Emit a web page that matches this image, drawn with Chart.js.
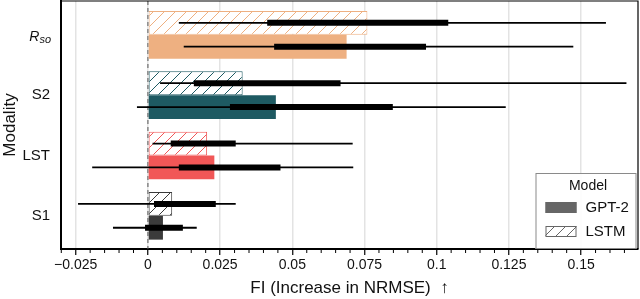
<!DOCTYPE html>
<html>
<head>
<meta charset="utf-8">
<script src="https://cdn.jsdelivr.net/npm/chart.js@4.4.0/dist/chart.umd.min.js"></script>
<style>
  html, body { margin: 0; padding: 0; background: #fff; }
  #wrap { width: 640px; height: 299px; }
</style>
</head>
<body>
<div id="wrap"><canvas id="fiChart" width="640" height="299"></canvas></div>
<script>
// modalities, top to bottom
const modalities = ['R_so', 'S2', 'LST', 'S1'];
const modalityColors = ['#eeb081', '#1e5a62', '#f15757', '#3b3b3b'];

// LSTM: bar = FI, thin line = low..high, thick line = q1..q3
const lstmFI = [0.076, 0.0328, 0.0205, 0.0084];
const lstmLow = [0.0107, 0.0042, 0.0016, -0.0242];
const lstmHigh = [0.1586, 0.1657, 0.0709, 0.0304];
const lstmQ1 = [0.0413, 0.0159, 0.0079, 0.0021];
const lstmQ3 = [0.104, 0.0667, 0.0304, 0.0235];

// GPT-2
const gptFI = [0.0688, 0.0443, 0.023, 0.0052];
const gptLow = [0.0124, -0.0038, -0.0193, -0.0121];
const gptHigh = [0.1473, 0.1239, 0.0711, 0.0169];
const gptQ1 = [0.0437, 0.0284, 0.0107, -0.001];
const gptQ3 = [0.0963, 0.0848, 0.0459, 0.0121];

const xTicks = [-0.025, 0, 0.025, 0.05, 0.075, 0.1, 0.125, 0.15];

const FONT = "'Liberation Sans', Arial, Helvetica, sans-serif";
Chart.defaults.font.family = FONT;
Chart.defaults.color = '#111';

// diagonal hatch as canvas pattern
function hatch(color) {
  const s = 11;
  const c = document.createElement('canvas');
  c.width = s; c.height = s;
  const g = c.getContext('2d');
  g.fillStyle = '#fff';
  g.fillRect(0, 0, s, s);
  g.strokeStyle = color;
  g.lineWidth = 1;
  g.beginPath();
  g.moveTo(0, s); g.lineTo(s, 0);
  g.moveTo(-1, 1); g.lineTo(1, -1);
  g.moveTo(s - 1, s + 1); g.lineTo(s + 1, s - 1);
  g.stroke();
  return g.createPattern(c, 'repeat');
}

function fmt(v) {
  const r = parseFloat(v.toFixed(4));
  return (r < 0 ? '\u2212' : '') + Math.abs(r).toString();
}

const toPoints = arr => arr.map((v, i) => ({ x: v, y: i }));

// whiskers + IQR lines on top of each bar
const spreadPlugin = {
  id: 'spread',
  afterDatasetsDraw(chart) {
    const ctx = chart.ctx;
    const x = chart.scales.x;
    chart.data.datasets.forEach((ds, di) => {
      const meta = chart.getDatasetMeta(di);
      meta.data.forEach((bar, i) => {
        const y = bar.y;
        ctx.save();
        ctx.strokeStyle = '#000';
        ctx.lineCap = 'butt';
        ctx.lineWidth = 1.8;
        ctx.beginPath();
        ctx.moveTo(x.getPixelForValue(ds.low[i]), y);
        ctx.lineTo(x.getPixelForValue(ds.high[i]), y);
        ctx.stroke();
        ctx.lineWidth = 6;
        ctx.beginPath();
        ctx.moveTo(x.getPixelForValue(ds.q1[i]), y);
        ctx.lineTo(x.getPixelForValue(ds.q3[i]), y);
        ctx.stroke();
        ctx.restore();
      });
    });
  }
};

// dashed zero line behind the bars
const zeroLinePlugin = {
  id: 'zeroLine',
  beforeDatasetsDraw(chart) {
    const { ctx, chartArea } = chart;
    const px = chart.scales.x.getPixelForValue(0);
    ctx.save();
    ctx.strokeStyle = '#555';
    ctx.lineWidth = 1;
    ctx.setLineDash([4, 3]);
    ctx.beginPath();
    ctx.moveTo(px, chartArea.top);
    ctx.lineTo(px, chartArea.bottom);
    ctx.stroke();
    ctx.restore();
  }
};

// frame, minor ticks, R_so label, legend
const decorPlugin = {
  id: 'decor',
  afterDraw(chart) {
    const { ctx, chartArea } = chart;
    const x = chart.scales.x;
    const y = chart.scales.y;
    ctx.save();

    // top and right spines
    ctx.strokeStyle = '#000';
    ctx.lineWidth = 1.2;
    ctx.beginPath();
    ctx.moveTo(chartArea.left, chartArea.top);
    ctx.lineTo(chartArea.right, chartArea.top);
    ctx.lineTo(chartArea.right, chartArea.bottom);
    ctx.stroke();

    // minor ticks every 0.005
    ctx.lineWidth = 1;
    for (let k = -6; k <= 34; k++) {
      if (k % 5 === 0) continue;
      const px = x.getPixelForValue(k * 0.005);
      if (px < chartArea.left || px > chartArea.right) continue;
      ctx.beginPath();
      ctx.moveTo(px, chartArea.bottom + 1);
      ctx.lineTo(px, chartArea.bottom + 4);
      ctx.stroke();
    }

    // math-style tick labels (R_so)
    modalities.forEach((m, i) => {
      if (!m.includes('_')) return;
      const [base, sub] = m.split('_');
      const py = y.getPixelForValue(i);
      const right = chartArea.left - 10;
      ctx.fillStyle = '#111';
      ctx.textBaseline = 'alphabetic';
      ctx.font = 'italic 11px ' + FONT;
      const wSub = ctx.measureText(sub).width;
      ctx.font = 'italic 14px ' + FONT;
      const wBase = ctx.measureText(base).width;
      ctx.fillText(base, right - wSub - wBase, py + 6);
      ctx.font = 'italic 11px ' + FONT;
      ctx.fillText(sub, right - wSub, py + 8.5);
    });

    // legend box
    const w = 101, h = 76;
    const lx = chartArea.right - w - 1.5;
    const ly = chartArea.bottom - h;
    ctx.fillStyle = 'rgba(255,255,255,0.9)';
    ctx.fillRect(lx, ly, w, h);
    ctx.strokeStyle = '#8a8a8a';
    ctx.lineWidth = 1;
    ctx.strokeRect(lx + 0.5, ly + 0.5, w - 1, h - 1);
    ctx.fillStyle = '#111';
    ctx.textAlign = 'center';
    ctx.textBaseline = 'middle';
    ctx.font = '14px ' + FONT;
    ctx.fillText('Model', lx + w / 2 + 2, ly + 13);
    ctx.textAlign = 'left';
    ctx.font = '15px ' + FONT;
    const order = [1, 0];
    order.forEach((di, row) => {
      const ds = chart.data.datasets[di];
      const sy = ly + 29 + row * 24;
      ctx.fillStyle = ds.legendFill;
      ctx.fillRect(lx + 10, sy, 31, 11);
      ctx.strokeStyle = '#666';
      ctx.lineWidth = 1;
      ctx.strokeRect(lx + 10.5, sy + 0.5, 30, 10);
      ctx.fillStyle = '#111';
      ctx.fillText(ds.label, lx + 50, sy + 6);
    });
    ctx.restore();
  }
};

const ctx = document.getElementById('fiChart').getContext('2d');
new Chart(ctx, {
  type: 'bar',
  data: {
    datasets: [
      {
        label: 'LSTM',
        data: toPoints(lstmFI),
        low: lstmLow, high: lstmHigh, q1: lstmQ1, q3: lstmQ3,
        backgroundColor: modalityColors.map(c => hatch(c)),
        borderColor: modalityColors,
        borderWidth: 1,
        borderSkipped: false,
        legendFill: hatch('#666')
      },
      {
        label: 'GPT-2',
        data: toPoints(gptFI),
        low: gptLow, high: gptHigh, q1: gptQ1, q3: gptQ3,
        backgroundColor: modalityColors,
        borderWidth: 0,
        legendFill: '#666'
      }
    ]
  },
  options: {
    indexAxis: 'y',
    responsive: false,
    animation: false,
    layout: { padding: { top: 1, right: 2, left: 0, bottom: 0 } },
    datasets: { bar: { categoryPercentage: 0.79, barPercentage: 1 } },
    plugins: { legend: { display: false }, tooltip: { enabled: false } },
    scales: {
      x: {
        type: 'linear',
        min: -0.0301,
        max: 0.1697,
        afterBuildTicks: s => { s.ticks = xTicks.map(v => ({ value: v })); },
        afterFit: s => { s.height = 50; s.paddingLeft = 0; s.paddingRight = 0; },
        grid: { color: '#e3e3e3', lineWidth: 1.5, tickColor: '#000', tickLength: 6, tickWidth: 1.2 },
        border: { color: '#000', width: 2 },
        ticks: {
          autoSkip: false, maxRotation: 0, padding: 2,
          font: { size: 14 },
          callback: v => fmt(v)
        },
        title: { display: true, text: 'FI (Increase in NRMSE)  \u2191', font: { size: 17 }, padding: { top: 0, bottom: 0 } }
      },
      y: {
        type: 'linear',
        reverse: true,
        offset: false,
        min: -0.56,
        max: 3.55,
        afterBuildTicks: s => { s.ticks = modalities.map((m, i) => ({ value: i })); },
        afterFit: s => { s.width = 61; s.paddingTop = 0; s.paddingBottom = 0; },
        grid: { display: false, drawTicks: false, offset: false },
        border: { color: '#000', width: 2 },
        ticks: {
          padding: 11,
          font: { size: 15 },
          callback: v => (modalities[v].includes('_') ? '' : modalities[v])
        },
        title: { display: true, text: 'Modality', font: { size: 17 }, padding: 0 }
      }
    }
  },
  plugins: [zeroLinePlugin, spreadPlugin, decorPlugin]
});
</script>
</body>
</html>
